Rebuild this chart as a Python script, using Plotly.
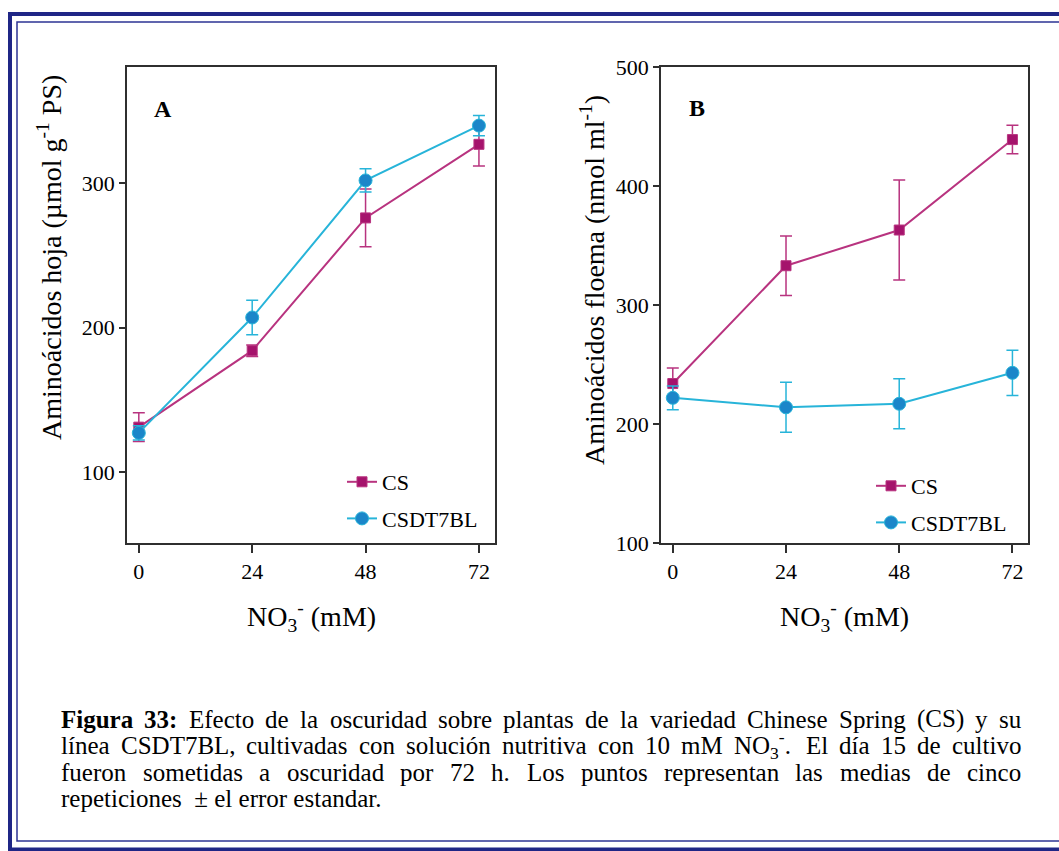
import re
import plotly.graph_objects as go

# ---------------- data ----------------
no3 = [0, 24, 48, 72]

# Panel A: leaf amino acids (umol g-1 DW)
hoja_cs = [131, 184, 276, 327]
hoja_cs_err = [10, 4, 20, 15]
hoja_dt = [127, 207, 302, 340]
hoja_dt_err = [5, 12, 8, 7]

# Panel B: phloem amino acids (nmol ml-1)
floema_cs = [234, 333, 363, 439]
floema_cs_err = [13, 25, 42, 12]
floema_dt = [222, 214, 217, 243]
floema_dt_err = [10, 21, 21, 19]

series_names = ["CS", "CSDT7BL"]
ticks_a = [100, 200, 300]
ticks_b = [100, 200, 300, 400, 500]

caption_lines = [
    "<b>Figura</b> <b>33:</b> Efecto de la oscuridad sobre plantas de la variedad Chinese Spring (CS) y su",
    "línea CSDT7BL, cultivadas con solución nutritiva con 10 mM NO<sub>3</sub><sup>-</sup>. El día 15 de cultivo",
    "fueron sometidas a oscuridad por 72 h. Los puntos representan las medias de cinco",
]
caption_last = "repeticiones \u00a0± el error estandar."

# ---------------- styling ----------------
W, H = 1059, 851
SERIF = "'Liberation Serif', 'Times New Roman', Times, serif"
CS_LINE, CS_MARK = "#b8337f", "#a5136c"
DT_LINE, DT_MARK = "#27b4d9", "#1b86c9"
AXIS = "#2f2f2f"
FRAME = "#1f2686"


def px(x):
    return x / W


def py(y):
    return 1 - y / H


# Times-compatible advance widths (1/1000 em) used to justify the caption
REG = {" ": 250, "\u00a0": 250, "(": 333, ")": 333, ",": 250, "-": 333, ".": 250, ":": 278, "±": 564,
       "0": 500, "1": 500, "2": 500, "3": 500, "4": 500, "5": 500, "6": 500, "7": 500, "8": 500, "9": 500,
       "A": 722, "B": 667, "C": 667, "D": 722, "E": 611, "F": 556, "G": 722, "H": 722, "I": 333, "L": 611,
       "M": 889, "N": 722, "O": 722, "P": 556, "S": 556, "T": 611,
       "a": 444, "b": 500, "c": 444, "d": 500, "e": 444, "f": 333, "g": 500, "h": 500, "i": 278, "j": 278,
       "k": 500, "l": 278, "m": 778, "n": 500, "o": 500, "p": 500, "q": 500, "r": 333, "s": 389, "t": 278,
       "u": 500, "v": 500, "w": 722, "x": 500, "y": 500, "z": 444, "í": 278, "á": 444, "ó": 500, "ú": 500}
BOLD = {" ": 250, "F": 611, "i": 278, "g": 500, "u": 556, "r": 444, "a": 500, "3": 500, ":": 333}


def text_width(s, size):
    total, scale, bold = 0.0, 1.0, False
    extra = 0.0
    for part in re.split(r"(<[^>]+>)", s):
        if part.startswith("<"):
            tag = part.strip("<>")
            if tag == "b":
                bold = True
            elif tag == "/b":
                bold = False
            elif tag in ("sub", "sup"):
                scale = 0.7
                extra += 2.0  # small shift plotly adds around sub/superscripts
            elif tag in ("/sub", "/sup"):
                scale = 1.0
        else:
            for ch in part:
                table = BOLD if bold else REG
                total += table.get(ch, REG.get(ch, 500)) * scale
    return total * size / 1000 + extra


fig = go.Figure()


def add_series(xax, yax, y, err, name, line_c, mark_c, symbol, size, legend, group):
    fig.add_trace(go.Scatter(
        x=no3, y=y, name=name, mode="lines+markers",
        xaxis=xax, yaxis=yax, legend=legend, legendgroup=group,
        line=dict(color=line_c, width=2),
        marker=dict(symbol=symbol, size=size, color=mark_c,
                    line=dict(color=line_c, width=1)),
        error_y=dict(type="data", array=err, color=line_c, thickness=1.5, width=6),
    ))


add_series("x", "y", hoja_cs, hoja_cs_err, series_names[0], CS_LINE, CS_MARK, "square", 10, "legend", "a_cs")
add_series("x", "y", hoja_dt, hoja_dt_err, series_names[1], DT_LINE, DT_MARK, "circle", 13, "legend", "a_dt")
add_series("x2", "y2", floema_cs, floema_cs_err, series_names[0], CS_LINE, CS_MARK, "square", 10, "legend2", "b_cs")
add_series("x2", "y2", floema_dt, floema_dt_err, series_names[1], DT_LINE, DT_MARK, "circle", 13, "legend2", "b_dt")

tick_font = dict(family=SERIF, size=22, color="black")
common_x = dict(tickvals=no3, ticks="outside", ticklen=8, tickwidth=1.5, tickcolor=AXIS,
                showline=True, linecolor=AXIS, linewidth=1.5, mirror=True,
                showgrid=False, zeroline=False, tickfont=tick_font, automargin=False)
common_y = dict(ticks="outside", ticklen=6, tickwidth=1.5, tickcolor=AXIS,
                showline=True, linecolor=AXIS, linewidth=1.5, mirror=True,
                showgrid=False, zeroline=False, tickfont=tick_font, automargin=False)

legend_common = dict(xanchor="left", yanchor="top", bgcolor="rgba(0,0,0,0)",
                     font=dict(family=SERIF, size=22, color="black"),
                     traceorder="grouped", tracegroupgap=5, borderwidth=0)

fig.update_layout(
    width=W, height=H,
    margin=dict(l=0, r=0, t=0, b=0),
    paper_bgcolor="white", plot_bgcolor="white",
    font=dict(family=SERIF, color="black"),
    xaxis=dict(domain=[px(127), px(495)], range=[-2.5, 75.4], anchor="y", **common_x),
    yaxis=dict(domain=[py(543), py(67)], range=[50.7, 380.6], tickvals=ticks_a, anchor="x", **common_y),
    xaxis2=dict(domain=[px(661), px(1028)], range=[-2.5, 75.3], anchor="y2", **common_x),
    yaxis2=dict(domain=[py(543), py(67)], range=[100, 500], tickvals=ticks_b, anchor="x2", **common_y),
    legend=dict(x=px(342), y=py(461), **legend_common),
    legend2=dict(x=px(871), y=py(465), **legend_common),
)

annotations = []


def note(text, x, y, size, xanchor="center", yanchor="middle", angle=0):
    annotations.append(dict(text=text, x=px(x), y=py(y), xref="paper", yref="paper",
                            xanchor=xanchor, yanchor=yanchor, showarrow=False,
                            textangle=angle, borderpad=0,
                            font=dict(family=SERIF, size=size, color="black")))


# panel letters
note("<b>A</b>", 163, 109, 24)
note("<b>B</b>", 697, 108, 24)

# axis titles
x_title = "NO<sub>3</sub><sup>-</sup> (mM)"
note(x_title, 311, 616, 28)
note(x_title, 844, 616, 28)
note("Aminoácidos hoja (µmol g<sup>-1</sup> PS)", 50, 258, 28, angle=-90)
note("Aminoácidos floema (nmol ml<sup>-1</sup>)", 592, 280, 28, angle=-90)

# justified caption
CAP_SIZE = 25
CAP_LEFT, CAP_RIGHT = 60, 1020
cap_y = [719, 745, 772]
for line, yc in zip(caption_lines, cap_y):
    words = line.split(" ")
    widths = [text_width(w, CAP_SIZE) for w in words]
    gap = (CAP_RIGHT - CAP_LEFT - sum(widths)) / (len(words) - 1)
    xpos = CAP_LEFT
    for w, wd in zip(words, widths):
        note(w, xpos, yc, CAP_SIZE, xanchor="left")
        xpos += wd + gap
note(caption_last, CAP_LEFT, 798, CAP_SIZE, xanchor="left")

fig.update_layout(annotations=annotations)

# double frame around the figure
fig.add_shape(type="rect", xref="paper", yref="paper",
              x0=px(10), y0=py(14), x1=px(1080), y1=py(849.5),
              line=dict(color=FRAME, width=4), layer="above")
fig.add_shape(type="rect", xref="paper", yref="paper",
              x0=px(17), y0=py(22), x1=px(1068), y1=py(841),
              line=dict(color="#2d3394", width=1.5), layer="above")

fig.write_html("out.html")
